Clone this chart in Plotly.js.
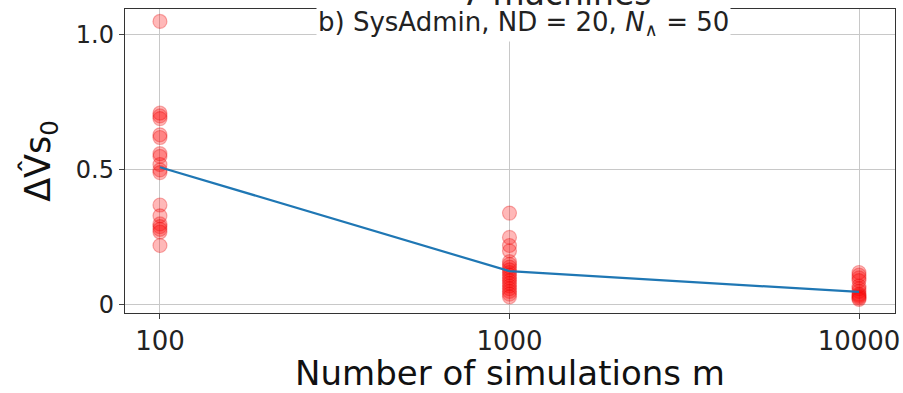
<!DOCTYPE html>
<html>
<head>
<meta charset="utf-8">
<script src="https://cdn.plot.ly/plotly-3.0.1.min.js"></script>
<style>html,body{margin:0;padding:0;background:#fff;}#chart{width:903px;height:393px;}</style>
</head>
<body>
<div id="chart"></div>
<script>
const simulations = [100, 1000, 10000];
const runs100 = [1.05, 0.71, 0.70, 0.69, 0.63, 0.62, 0.56, 0.55, 0.52, 0.50, 0.49, 0.37, 0.33, 0.30, 0.29, 0.28, 0.27, 0.22];
const runs1000 = [0.34, 0.25, 0.22, 0.20, 0.16, 0.15, 0.14, 0.13, 0.12, 0.11, 0.10, 0.09, 0.08, 0.07, 0.06, 0.05, 0.04, 0.03];
const runs10000 = [0.12, 0.11, 0.10, 0.09, 0.07, 0.06, 0.05, 0.04, 0.035, 0.03, 0.025, 0.02];
const meanValues = [0.51, 0.125, 0.048];
const xTickLabels = ["100", "1000", "10000"];
const yTickVals = [0, 0.5, 1.0];
const yTickLabels = ["0", "0.5", "1.0"];

const runsAll = [runs100, runs1000, runs10000];
const scX = [], scY = [];
runsAll.forEach((arr, i) => arr.forEach(v => { scX.push(simulations[i]); scY.push(v); }));

const traces = [
  {
    x: scX, y: scY, type: 'scatter', mode: 'markers',
    marker: {size: 14, color: 'rgba(255,0,0,0.28)', line: {color: 'rgba(230,0,0,0.3)', width: 1.2}},
    showlegend: false, hoverinfo: 'skip'
  },
  {
    x: simulations, y: meanValues, type: 'scatter', mode: 'lines',
    line: {color: '#1f77b4', width: 2.2},
    showlegend: false
  }
];

const layout = {
  width: 903, height: 393,
  margin: {l: 125, r: 8, t: 9, b: 80},
  paper_bgcolor: '#fff', plot_bgcolor: '#fff',
  font: {family: 'DejaVu Sans', color: '#222'},
  xaxis: {
    type: 'log', range: [1.9, 4.103],
    tickvals: simulations, ticktext: xTickLabels,
    tickfont: {size: 26, color: '#222'},
    ticklabeloverflow: 'allow',
    ticks: 'outside', ticklen: 5, tickcolor: '#444',
    showgrid: true, gridcolor: '#c8c8c8', gridwidth: 1,
    showline: true, linecolor: '#333', linewidth: 1.2, mirror: true,
    zeroline: false,
    title: {text: 'Number of simulations m', font: {size: 34, color: '#111'}, standoff: 6}
  },
  yaxis: {
    range: [-0.03, 1.096],
    tickvals: yTickVals, ticktext: yTickLabels,
    tickfont: {size: 24, color: '#222'},
    ticks: 'outside', ticklen: 5, tickcolor: '#444',
    showgrid: true, gridcolor: '#c8c8c8', gridwidth: 1,
    showline: true, linecolor: '#333', linewidth: 1.2, mirror: true,
    zeroline: false,
    title: {text: 'ΔV̂s<sub>0</sub>', font: {size: 35, color: '#111'}, standoff: 14}
  },
  annotations: [
    {
      xref: 'paper', yref: 'paper', x: 0.517, y: 0.951,
      text: 'b) SysAdmin, ND = 20, <i>N</i><sub>∧</sub> = 50',
      showarrow: false, font: {size: 26, color: '#222'},
      bgcolor: '#fff', borderpad: 1, xanchor: 'center', yanchor: 'middle'
    },
    {
      xref: 'paper', yref: 'paper', x: 0.561, y: 1,
      text: '7 machines', showarrow: false,
      font: {size: 33, color: '#222'},
      xanchor: 'center', yanchor: 'bottom', yshift: -6
    }
  ]
};

Plotly.newPlot('chart', traces, layout, {displayModeBar: false, staticPlot: true});
</script>
</body>
</html>
